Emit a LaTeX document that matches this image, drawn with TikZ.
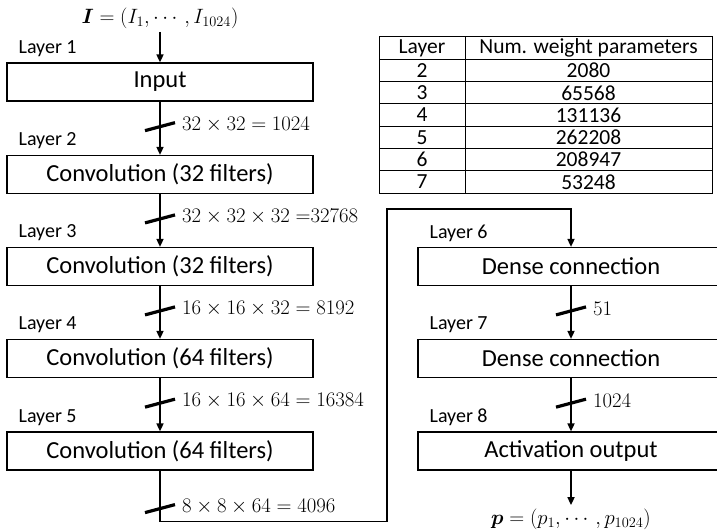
\documentclass[tikz,border=0pt]{standalone}
\usepackage[no-math]{fontspec}
\setmainfont{Carlito}
\usepackage{amsmath}
\usetikzlibrary{arrows.meta, positioning, calc}

\tikzset{
  layerbox/.style={draw, line width=1.2pt, minimum width=306pt, minimum height=38pt, inner sep=0pt, font=\fontsize{24.5}{28}\selectfont},
  layerlbl/.style={anchor=west, inner sep=0pt, font=\fontsize{20}{22}\selectfont},
  flow/.style={line width=1.6pt, -{Triangle[length=8pt,width=7pt]}},
  slash/.style={line width=3.2pt},
  dimlbl/.style={anchor=west, inner sep=0pt, font=\fontsize{21}{24}\selectfont},
  cell/.style={inner sep=0pt, font=\fontsize{21.5}{24}\selectfont},
}
\newcommand{\busmark}[2]{%
  \draw[slash] ($(#1)+(-15,4)$) -- ($(#1)+(15,-4)$);
  \node[dimlbl] at ($(#1)+(22,-2)$) {#2};}

\begin{document}
\begin{tikzpicture}[x=1pt, y=-1pt]
  \useasboundingbox (0,0) rectangle (717,532);

  % Linke Spalte
  \node[layerbox] (in)  at (160,82)    {Input};
  \node[layerbox] (cv1) at (160,174.5) {Convolution (32 filters)};
  \node[layerbox] (cv2) at (160,266.5) {Convolution (32 filters)};
  \node[layerbox] (cv3) at (160,358.5) {Convolution (64 filters)};
  \node[layerbox] (cv4) at (160,451)   {Convolution (64 filters)};

  % Rechte Spalte
  \node[layerbox] (dn1) at (571,266.5) {Dense connection};
  \node[layerbox] (dn2) at (571,358.5) {Dense connection};
  \node[layerbox] (act) at (571,451)   {Activation output};

  % Layer-Beschriftungen
  \foreach \b/\k in {in/1, cv1/2, cv2/3, cv3/4, cv4/5, dn1/6, dn2/7, act/8}
    \node[layerlbl] (lay\k) at ($(\b.north west)+(12,-14)$) {Layer \k};

  % Ein- und Ausgang
  \node[font=\fontsize{21}{24}\selectfont] (inlbl) at (160,18) {$\boldsymbol{I}=(I_1,\cdots,I_{1024})$};
  \node[font=\fontsize{21}{24}\selectfont] (outlbl) at (571,519) {$\boldsymbol{p}=(p_1,\cdots,p_{1024})$};
  \draw[flow] (inlbl) -- (in);
  \draw[flow] (act) -- (outlbl);

  % Verbindungen links
  \draw[flow] (in) -- coordinate[pos=0.47] (s1) (cv1);
  \busmark{s1}{$32\times32=1024$}
  \draw[flow] (cv1) -- coordinate[pos=0.47] (s2) (cv2);
  \busmark{s2}{$32\times32\times32 =\mskip-\thickmuskip 32768$}
  \draw[flow] (cv2) -- coordinate[pos=0.47] (s3) (cv3);
  \busmark{s3}{$16\times16\times32=8192$}
  \draw[flow] (cv3) -- coordinate[pos=0.47] (s4) (cv4);
  \busmark{s4}{$16\times16\times64=16384$}

  % Umweg zur rechten Spalte
  \coordinate (turn) at (387,209);
  \coordinate (s5) at ($(cv4.south)+(0,38)$);
  \draw[flow] (cv4.south) -- ++(0,51) -| (turn) -| (dn1.north);
  \busmark{s5}{$8\times8\times64=4096$}

  % Verbindungen rechts
  \draw[flow] (dn1) -- coordinate[pos=0.47] (s6) (dn2);
  \busmark{s6}{$51$}
  \draw[flow] (dn2) -- coordinate[pos=0.47] (s7) (act);
  \busmark{s7}{$1024$}

  % Tabelle
  \draw[line width=1pt] (379,37) rectangle (712,193);
  \draw[line width=1pt] (465,37) -- (465,193);
  \foreach \r in {1,...,6}
    \draw[line width=1pt] (379,37+22.3*\r) -- (712,37+22.3*\r);
  \foreach \lay/\num [count=\r] in {Layer/Num. weight parameters, 2/2080, 3/65568,
      4/131136, 5/262208, 6/208947, 7/53248} {
    \node[cell] (tl\r) at (422,37+22.3*\r-11.15) {\lay};
    \node[cell] (tn\r) at (588.5,37+22.3*\r-11.15) {\num};
  }
\end{tikzpicture}
\end{document}
